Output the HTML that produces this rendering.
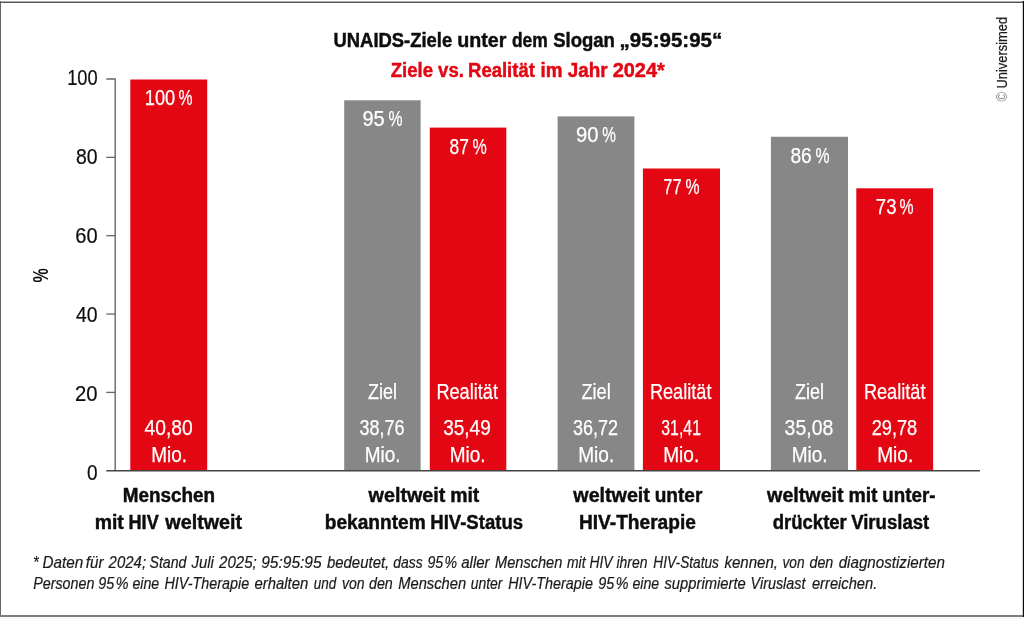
<!DOCTYPE html>
<html lang="de"><head><meta charset="utf-8"><title>UNAIDS-Ziele 95:95:95</title>
<style>html,body{margin:0;padding:0;background:#fff}body{width:1024px;height:619px;overflow:hidden}svg{display:block}text{font-family:"Liberation Sans", sans-serif;white-space:pre}</style></head><body>
<svg width="1024" height="619" viewBox="0 0 1024 619" role="img" aria-label="UNAIDS-Ziele 95:95:95">
<rect width="1024" height="619" fill="#fff"/>
<rect x="0" y="617" width="1024" height="2" fill="#f8f8f8"/>
<rect x="0" y="1" width="1024" height="1" fill="#b0b0b0"/>
<rect x="0" y="2" width="1024" height="1" fill="#555"/>
<rect x="0" y="1" width="1" height="616" fill="#666"/>
<rect x="0" y="615" width="1024" height="2" fill="#7e7e7e"/>
<rect x="1022.8" y="1" width="1.2" height="616" fill="#0a0a0a"/>
<rect x="130.3" y="79.5" width="76.90" height="391.00" fill="#e30613"/>
<rect x="344.2" y="100.3" width="76.40" height="370.20" fill="#878787"/>
<rect x="429.8" y="127.6" width="76.50" height="342.90" fill="#e30613"/>
<rect x="557.6" y="116.4" width="76.80" height="354.10" fill="#878787"/>
<rect x="642.9" y="168.5" width="77.10" height="302.00" fill="#e30613"/>
<rect x="770.9" y="136.75" width="77.10" height="333.75" fill="#878787"/>
<rect x="856.3" y="188.3" width="76.80" height="282.20" fill="#e30613"/>
<path d="M106.3 79H115.2V470.7" fill="none" stroke="#666" stroke-width="1.4"/>
<path d="M106.3 157.35H115.2" stroke="#666" stroke-width="1.3"/>
<path d="M106.3 235.7H115.2" stroke="#666" stroke-width="1.3"/>
<path d="M106.3 314.05H115.2" stroke="#666" stroke-width="1.3"/>
<path d="M106.3 392.4H115.2" stroke="#666" stroke-width="1.3"/>
<path d="M106.3 470.7H980" stroke="#444" stroke-width="1.4"/>
<text y="47" font-size="20" font-weight="bold" fill="#0d0d0d" stroke="#0d0d0d" stroke-width="0.45"><tspan x="333.53" textLength="118.69" lengthAdjust="spacingAndGlyphs">UNAIDS-Ziele</tspan> <tspan x="457.18" textLength="49.16" lengthAdjust="spacingAndGlyphs">unter</tspan> <tspan x="511.98" textLength="35.77" lengthAdjust="spacingAndGlyphs">dem</tspan> <tspan x="553.19" textLength="61.73" lengthAdjust="spacingAndGlyphs">Slogan</tspan> <tspan x="619.61" textLength="102.60" lengthAdjust="spacingAndGlyphs">„95:95:95“</tspan></text>
<text y="76.5" font-size="20" font-weight="bold" fill="#e30613" stroke="#e30613" stroke-width="0.45"><tspan x="390.69" textLength="73.23" lengthAdjust="spacingAndGlyphs">Ziele vs.</tspan> <tspan x="468.02" textLength="66.84" lengthAdjust="spacingAndGlyphs">Realität</tspan> <tspan x="540.49" textLength="67.23" lengthAdjust="spacingAndGlyphs">im Jahr</tspan> <tspan x="612.65" textLength="52.23" lengthAdjust="spacingAndGlyphs">2024*</tspan></text>
<text y="85.0" font-size="21.7" fill="#0d0d0d" stroke="#0d0d0d" stroke-width="0.2"><tspan x="67.16" textLength="30.50" lengthAdjust="spacingAndGlyphs">100</tspan></text>
<text y="164.0" font-size="21.7" fill="#0d0d0d" stroke="#0d0d0d" stroke-width="0.2"><tspan x="76.00" textLength="21.61" lengthAdjust="spacingAndGlyphs">80</tspan></text>
<text y="243.0" font-size="21.7" fill="#0d0d0d" stroke="#0d0d0d" stroke-width="0.2"><tspan x="75.27" textLength="22.34" lengthAdjust="spacingAndGlyphs">60</tspan></text>
<text y="322.0" font-size="21.7" fill="#0d0d0d" stroke="#0d0d0d" stroke-width="0.2"><tspan x="76.00" textLength="21.61" lengthAdjust="spacingAndGlyphs">40</tspan></text>
<text y="401.0" font-size="21.7" fill="#0d0d0d" stroke="#0d0d0d" stroke-width="0.2"><tspan x="75.07" textLength="22.55" lengthAdjust="spacingAndGlyphs">20</tspan></text>
<text y="480.0" font-size="21.7" fill="#0d0d0d" stroke="#0d0d0d" stroke-width="0.2"><tspan x="87.00" textLength="10.55" lengthAdjust="spacingAndGlyphs">0</tspan></text>
<text y="105.45" font-size="22.1" fill="#fff" stroke="#fff" stroke-width="0.25"><tspan x="144.77" textLength="30.45" lengthAdjust="spacingAndGlyphs">100</tspan> <tspan x="178.60" textLength="14.07" lengthAdjust="spacingAndGlyphs">%</tspan></text>
<text y="126.25" font-size="22.1" fill="#fff" stroke="#fff" stroke-width="0.25"><tspan x="362.40" textLength="22.23" lengthAdjust="spacingAndGlyphs">95</tspan> <tspan x="388.50" textLength="14.07" lengthAdjust="spacingAndGlyphs">%</tspan></text>
<text y="153.54999999999998" font-size="22.1" fill="#fff" stroke="#fff" stroke-width="0.25"><tspan x="449.60" textLength="19.36" lengthAdjust="spacingAndGlyphs">87</tspan> <tspan x="472.60" textLength="14.28" lengthAdjust="spacingAndGlyphs">%</tspan></text>
<text y="142.35" font-size="22.1" fill="#fff" stroke="#fff" stroke-width="0.25"><tspan x="575.88" textLength="22.55" lengthAdjust="spacingAndGlyphs">90</tspan> <tspan x="602.30" textLength="13.66" lengthAdjust="spacingAndGlyphs">%</tspan></text>
<text y="194.45" font-size="22.1" fill="#fff" stroke="#fff" stroke-width="0.25"><tspan x="663.26" textLength="18.27" lengthAdjust="spacingAndGlyphs">77</tspan> <tspan x="685.40" textLength="14.07" lengthAdjust="spacingAndGlyphs">%</tspan></text>
<text y="162.7" font-size="22.1" fill="#fff" stroke="#fff" stroke-width="0.25"><tspan x="790.40" textLength="21.30" lengthAdjust="spacingAndGlyphs">86</tspan> <tspan x="815.60" textLength="14.07" lengthAdjust="spacingAndGlyphs">%</tspan></text>
<text y="214.25" font-size="22.1" fill="#fff" stroke="#fff" stroke-width="0.25"><tspan x="875.86" textLength="20.62" lengthAdjust="spacingAndGlyphs">73</tspan> <tspan x="899.40" textLength="14.07" lengthAdjust="spacingAndGlyphs">%</tspan></text>
<text y="398.75" font-size="22.1" fill="#fff" stroke="#fff" stroke-width="0.25"><tspan x="368.00" textLength="29.00" lengthAdjust="spacingAndGlyphs">Ziel</tspan></text>
<text y="398.75" font-size="22.1" fill="#fff" stroke="#fff" stroke-width="0.25"><tspan x="436.43" textLength="61.51" lengthAdjust="spacingAndGlyphs">Realität</tspan></text>
<text y="398.75" font-size="22.1" fill="#fff" stroke="#fff" stroke-width="0.25"><tspan x="581.50" textLength="29.25" lengthAdjust="spacingAndGlyphs">Ziel</tspan></text>
<text y="398.75" font-size="22.1" fill="#fff" stroke="#fff" stroke-width="0.25"><tspan x="649.93" textLength="61.51" lengthAdjust="spacingAndGlyphs">Realität</tspan></text>
<text y="398.75" font-size="22.1" fill="#fff" stroke="#fff" stroke-width="0.25"><tspan x="795.00" textLength="29.00" lengthAdjust="spacingAndGlyphs">Ziel</tspan></text>
<text y="398.75" font-size="22.1" fill="#fff" stroke="#fff" stroke-width="0.25"><tspan x="863.93" textLength="61.51" lengthAdjust="spacingAndGlyphs">Realität</tspan></text>
<text y="434.6" font-size="22.1" fill="#fff" stroke="#fff" stroke-width="0.25"><tspan x="144.50" textLength="48.26" lengthAdjust="spacingAndGlyphs">40,80</tspan></text>
<text y="461.6" font-size="22.1" fill="#fff" stroke="#fff" stroke-width="0.25"><tspan x="151.14" textLength="35.86" lengthAdjust="spacingAndGlyphs">Mio.</tspan></text>
<text y="434.6" font-size="22.1" fill="#fff" stroke="#fff" stroke-width="0.25"><tspan x="359.44" textLength="45.06" lengthAdjust="spacingAndGlyphs">38,76</tspan></text>
<text y="461.6" font-size="22.1" fill="#fff" stroke="#fff" stroke-width="0.25"><tspan x="364.64" textLength="35.86" lengthAdjust="spacingAndGlyphs">Mio.</tspan></text>
<text y="434.6" font-size="22.1" fill="#fff" stroke="#fff" stroke-width="0.25"><tspan x="443.14" textLength="47.62" lengthAdjust="spacingAndGlyphs">35,49</tspan></text>
<text y="461.6" font-size="22.1" fill="#fff" stroke="#fff" stroke-width="0.25"><tspan x="449.64" textLength="35.86" lengthAdjust="spacingAndGlyphs">Mio.</tspan></text>
<text y="434.6" font-size="22.1" fill="#fff" stroke="#fff" stroke-width="0.25"><tspan x="572.94" textLength="45.06" lengthAdjust="spacingAndGlyphs">36,72</tspan></text>
<text y="461.6" font-size="22.1" fill="#fff" stroke="#fff" stroke-width="0.25"><tspan x="578.13" textLength="36.13" lengthAdjust="spacingAndGlyphs">Mio.</tspan></text>
<text y="434.6" font-size="22.1" fill="#fff" stroke="#fff" stroke-width="0.25"><tspan x="661.28" textLength="39.68" lengthAdjust="spacingAndGlyphs">31,41</tspan></text>
<text y="461.6" font-size="22.1" fill="#fff" stroke="#fff" stroke-width="0.25"><tspan x="663.13" textLength="36.13" lengthAdjust="spacingAndGlyphs">Mio.</tspan></text>
<text y="434.6" font-size="22.1" fill="#fff" stroke="#fff" stroke-width="0.25"><tspan x="784.62" textLength="48.64" lengthAdjust="spacingAndGlyphs">35,08</tspan></text>
<text y="461.6" font-size="22.1" fill="#fff" stroke="#fff" stroke-width="0.25"><tspan x="791.64" textLength="35.86" lengthAdjust="spacingAndGlyphs">Mio.</tspan></text>
<text y="434.6" font-size="22.1" fill="#fff" stroke="#fff" stroke-width="0.25"><tspan x="871.68" textLength="45.57" lengthAdjust="spacingAndGlyphs">29,78</tspan></text>
<text y="461.6" font-size="22.1" fill="#fff" stroke="#fff" stroke-width="0.25"><tspan x="877.13" textLength="36.13" lengthAdjust="spacingAndGlyphs">Mio.</tspan></text>
<text y="501.6" font-size="20" font-weight="bold" fill="#0d0d0d" stroke="#0d0d0d" stroke-width="0.45"><tspan x="122.74" textLength="92.34" lengthAdjust="spacingAndGlyphs">Menschen</tspan></text>
<text y="529.3" font-size="20" font-weight="bold" fill="#0d0d0d" stroke="#0d0d0d" stroke-width="0.45"><tspan x="94.70" textLength="29.14" lengthAdjust="spacingAndGlyphs">mit</tspan> <tspan x="128.55" textLength="30.15" lengthAdjust="spacingAndGlyphs">HIV</tspan> <tspan x="165.34" textLength="76.80" lengthAdjust="spacingAndGlyphs">weltweit</tspan></text>
<text y="501.6" font-size="20" font-weight="bold" fill="#0d0d0d" stroke="#0d0d0d" stroke-width="0.45"><tspan x="368.59" textLength="76.80" lengthAdjust="spacingAndGlyphs">weltweit</tspan> <tspan x="450.20" textLength="29.14" lengthAdjust="spacingAndGlyphs">mit</tspan></text>
<text y="529.3" font-size="20" font-weight="bold" fill="#0d0d0d" stroke="#0d0d0d" stroke-width="0.45"><tspan x="324.72" textLength="100.92" lengthAdjust="spacingAndGlyphs">bekanntem</tspan> <tspan x="430.27" textLength="92.82" lengthAdjust="spacingAndGlyphs">HIV-Status</tspan></text>
<text y="501.6" font-size="20" font-weight="bold" fill="#0d0d0d" stroke="#0d0d0d" stroke-width="0.45"><tspan x="573.34" textLength="76.55" lengthAdjust="spacingAndGlyphs">weltweit</tspan> <tspan x="654.73" textLength="47.59" lengthAdjust="spacingAndGlyphs">unter</tspan></text>
<text y="529.3" font-size="20" font-weight="bold" fill="#0d0d0d" stroke="#0d0d0d" stroke-width="0.45"><tspan x="578.97" textLength="116.86" lengthAdjust="spacingAndGlyphs">HIV-Therapie</tspan></text>
<text y="501.6" font-size="20" font-weight="bold" fill="#0d0d0d" stroke="#0d0d0d" stroke-width="0.45"><tspan x="767.09" textLength="76.55" lengthAdjust="spacingAndGlyphs">weltweit</tspan> <tspan x="848.45" textLength="29.14" lengthAdjust="spacingAndGlyphs">mit</tspan> <tspan x="882.25" textLength="53.20" lengthAdjust="spacingAndGlyphs">unter-</tspan></text>
<text y="529.3" font-size="20" font-weight="bold" fill="#0d0d0d" stroke="#0d0d0d" stroke-width="0.45"><tspan x="772.69" textLength="74.14" lengthAdjust="spacingAndGlyphs">drückter</tspan> <tspan x="851.14" textLength="78.10" lengthAdjust="spacingAndGlyphs">Viruslast</tspan></text>
<text y="567.5" font-size="16.4" font-style="italic" fill="#1a1a1a" stroke="#1a1a1a" stroke-width="0.2"><tspan x="33.08" textLength="5.66" lengthAdjust="spacingAndGlyphs">*</tspan> <tspan x="42.44" textLength="40.82" lengthAdjust="spacingAndGlyphs">Daten</tspan> <tspan x="85.69" textLength="17.82" lengthAdjust="spacingAndGlyphs">für</tspan> <tspan x="108.62" textLength="37.46" lengthAdjust="spacingAndGlyphs">2024;</tspan> <tspan x="149.48" textLength="37.04" lengthAdjust="spacingAndGlyphs">Stand</tspan> <tspan x="191.45" textLength="22.49" lengthAdjust="spacingAndGlyphs">Juli</tspan> <tspan x="219.12" textLength="37.71" lengthAdjust="spacingAndGlyphs">2025;</tspan> <tspan x="261.18" textLength="60.46" lengthAdjust="spacingAndGlyphs">95:95:95</tspan> <tspan x="326.95" textLength="62.33" lengthAdjust="spacingAndGlyphs">bedeutet,</tspan> <tspan x="393.24" textLength="29.45" lengthAdjust="spacingAndGlyphs">dass</tspan> <tspan x="427.48" textLength="29.70" lengthAdjust="spacingAndGlyphs">95<tspan font-size="6"> </tspan>%</tspan> <tspan x="461.20" textLength="28.42" lengthAdjust="spacingAndGlyphs">aller</tspan> <tspan x="494.97" textLength="67.38" lengthAdjust="spacingAndGlyphs">Menschen</tspan> <tspan x="566.99" textLength="80.39" lengthAdjust="spacingAndGlyphs">mit HIV ihren</tspan> <tspan x="653.25" textLength="65.70" lengthAdjust="spacingAndGlyphs">HIV-Status</tspan> <tspan x="724.45" textLength="53.57" lengthAdjust="spacingAndGlyphs">kennen,</tspan> <tspan x="782.50" textLength="22.12" lengthAdjust="spacingAndGlyphs">von</tspan> <tspan x="809.48" textLength="23.86" lengthAdjust="spacingAndGlyphs">den</tspan> <tspan x="838.70" textLength="106.19" lengthAdjust="spacingAndGlyphs">diagnostizierten</tspan></text>
<text y="588.75" font-size="16.4" font-style="italic" fill="#1a1a1a" stroke="#1a1a1a" stroke-width="0.2"><tspan x="33.23" textLength="61.20" lengthAdjust="spacingAndGlyphs">Personen</tspan> <tspan x="98.22" textLength="30.23" lengthAdjust="spacingAndGlyphs">95<tspan font-size="6"> </tspan>%</tspan> <tspan x="132.48" textLength="26.79" lengthAdjust="spacingAndGlyphs">eine</tspan> <tspan x="164.48" textLength="84.69" lengthAdjust="spacingAndGlyphs">HIV-Therapie</tspan> <tspan x="254.46" textLength="53.80" lengthAdjust="spacingAndGlyphs">erhalten</tspan> <tspan x="313.76" textLength="22.46" lengthAdjust="spacingAndGlyphs">und</tspan> <tspan x="341.99" textLength="22.65" lengthAdjust="spacingAndGlyphs">von</tspan> <tspan x="368.98" textLength="23.86" lengthAdjust="spacingAndGlyphs">den</tspan> <tspan x="398.21" textLength="67.89" lengthAdjust="spacingAndGlyphs">Menschen</tspan> <tspan x="470.74" textLength="31.73" lengthAdjust="spacingAndGlyphs">unter</tspan> <tspan x="508.23" textLength="84.69" lengthAdjust="spacingAndGlyphs">HIV-Therapie</tspan> <tspan x="598.22" textLength="30.23" lengthAdjust="spacingAndGlyphs">95<tspan font-size="6"> </tspan>%</tspan> <tspan x="632.48" textLength="26.79" lengthAdjust="spacingAndGlyphs">eine</tspan> <tspan x="664.46" textLength="81.25" lengthAdjust="spacingAndGlyphs">supprimierte</tspan> <tspan x="750.60" textLength="54.92" lengthAdjust="spacingAndGlyphs">Viruslast</tspan> <tspan x="811.96" textLength="65.27" lengthAdjust="spacingAndGlyphs">erreichen.</tspan></text>
<text transform="translate(48.0 282.5) rotate(-90) scale(0.70 1)" font-size="22.9" font-weight="bold" fill="#0d0d0d">%</text>
<text transform="translate(1007.4 101.5) rotate(-90) scale(0.907 1)" font-size="14.2" fill="#1a1a1a" stroke="#1a1a1a" stroke-width="0.25"><tspan fill="#777" stroke="none">©</tspan> Universimed</text>
</svg></body></html>
